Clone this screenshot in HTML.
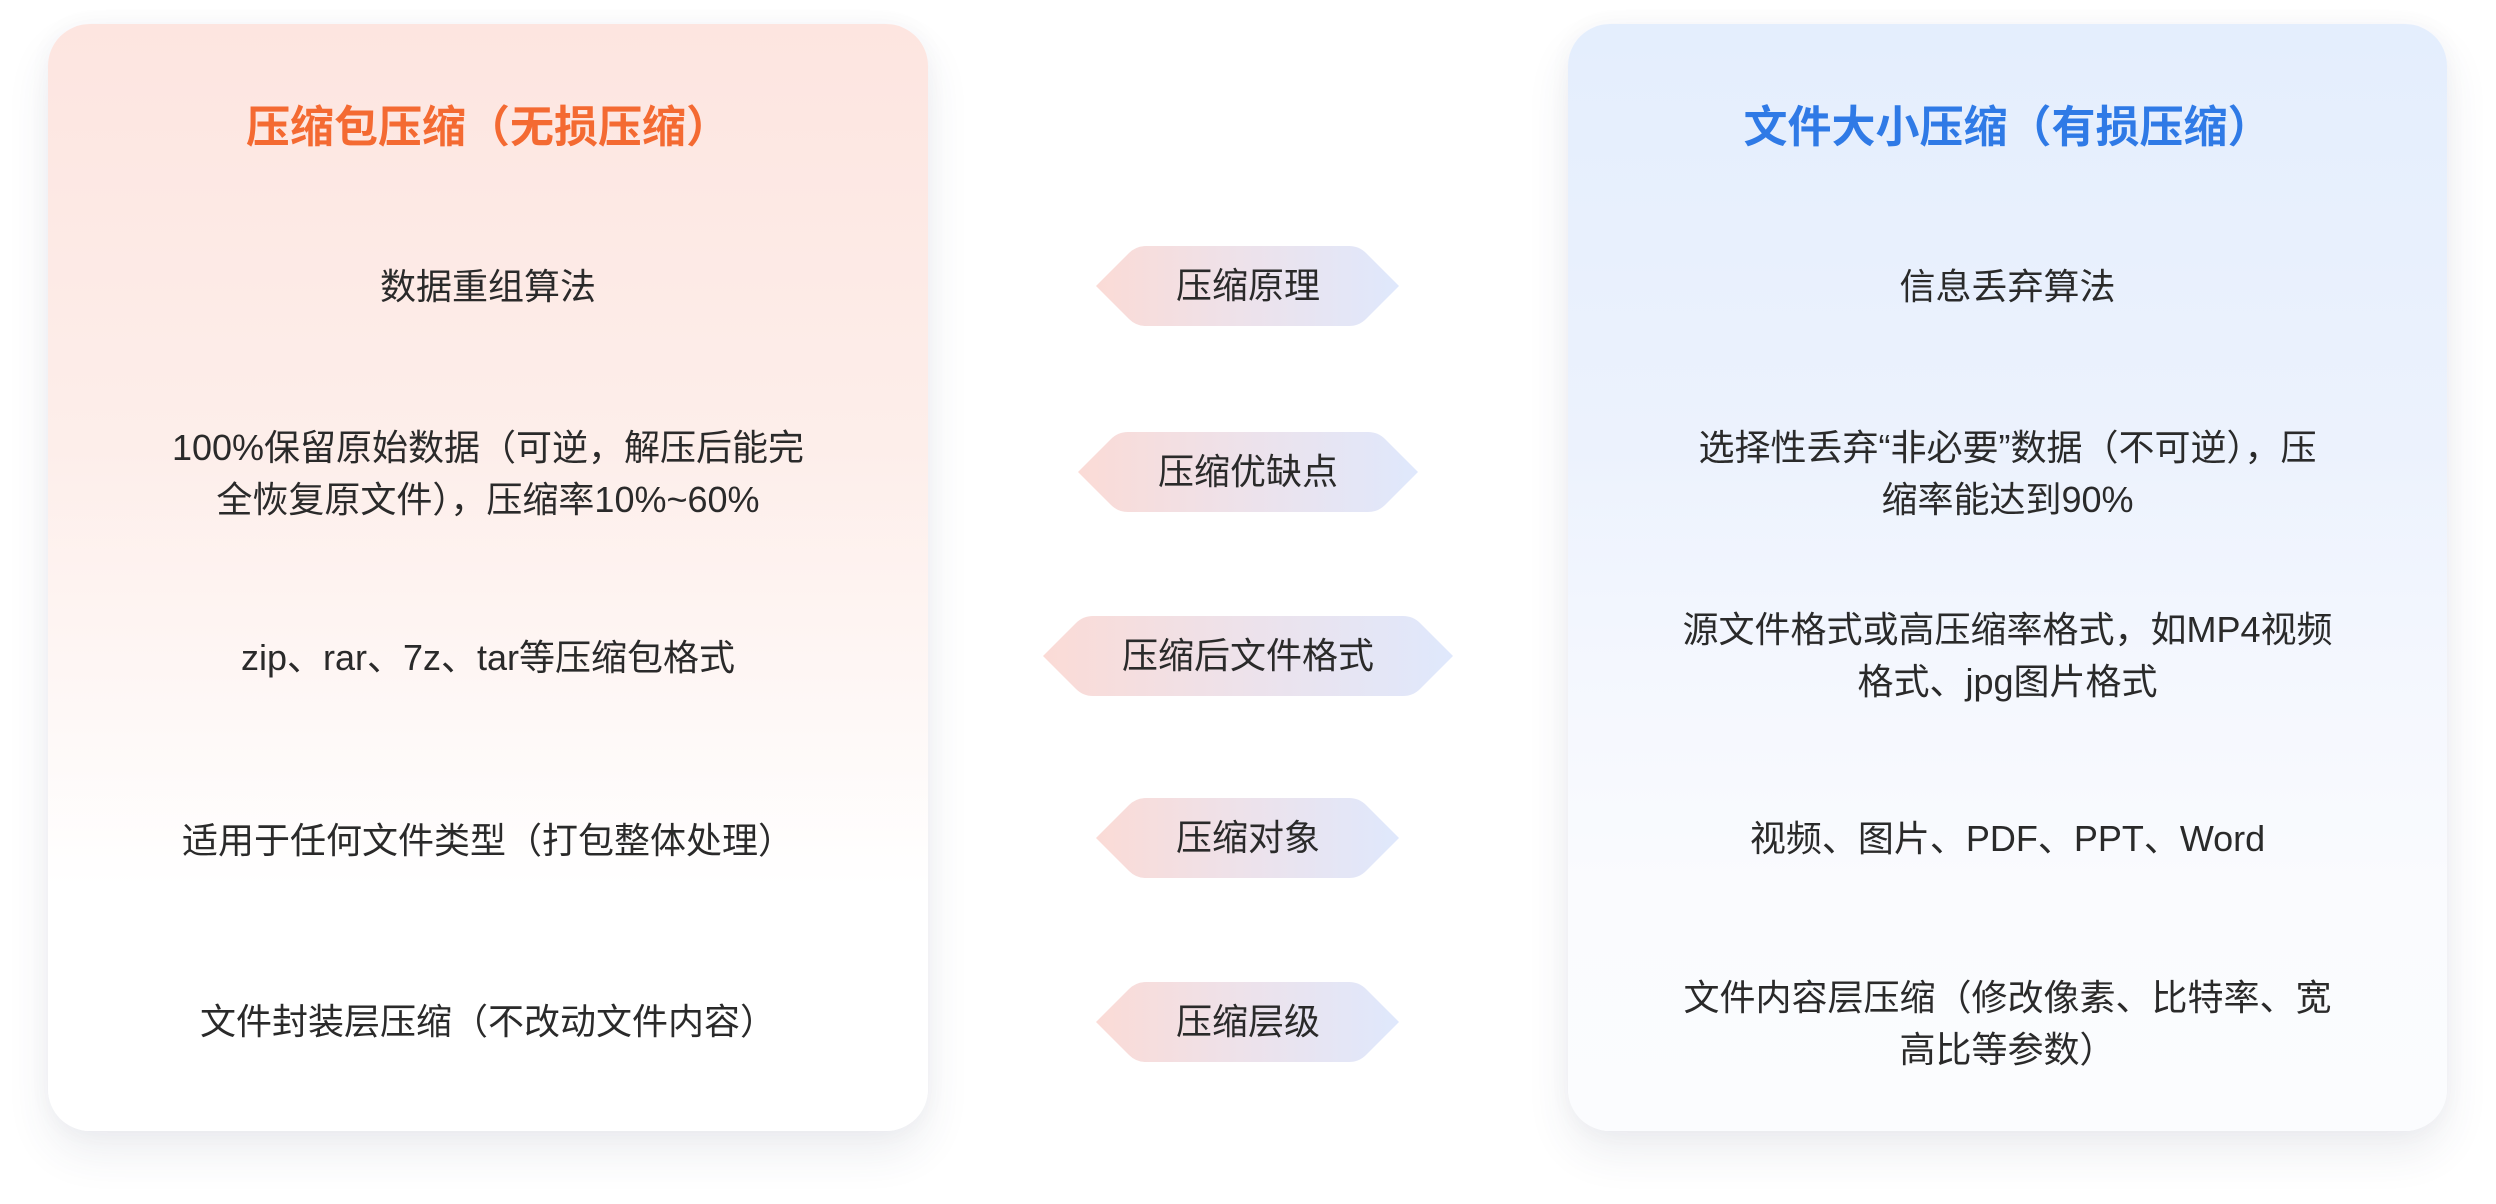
<!DOCTYPE html>
<html>
<head>
<meta charset="utf-8">
<style>
  html, body { margin:0; padding:0; }
  body {
    width:2496px; height:1204px; position:relative; overflow:hidden;
    background:#ffffff;
    font-family:"Liberation Sans","Noto Sans CJK SC",sans-serif;
    color:#2a2a2a;
  }
  .card {
    position:absolute; top:24px; height:1107px; border-radius:42px;
    box-shadow:0 22px 44px rgba(60,70,95,0.09), 0 0 24px rgba(60,70,95,0.035);
  }
  .left { left:48px; width:880px;
    background:linear-gradient(to bottom,#fde5e0 0%,#fdeeea 38%,#fef6f4 58%,#ffffff 78%,#ffffff 100%); }
  .right { left:1568px; width:879px;
    background:linear-gradient(to bottom,#e4eefd 0%,#ecf2fd 38%,#f4f7fe 58%,#fafbfe 78%,#fbfcfe 100%); }
  .t {
    position:absolute; text-align:center; white-space:nowrap;
    font-size:36px; line-height:52px;
  }
  .L { left:48px; width:880px; }
  .R { left:1568px; width:879px; }
  .title { font-size:44px; line-height:60px; font-weight:bold; top:98px; }
  .orange { color:#f46a32; }
  .blue { color:#2f7ae6; }
  .p { left:1048px; width:400px; }
  svg { position:absolute; left:0; top:0; }
</style>
</head>
<body>
  <div class="card left"></div>
  <div class="card right"></div>

  <svg width="2496" height="1204" viewBox="0 0 2496 1204">
    <defs>
      <linearGradient id="pg" x1="0" y1="0" x2="1" y2="0">
        <stop offset="0" stop-color="#fbdbd6"/>
        <stop offset="0.5" stop-color="#ede2eb"/>
        <stop offset="1" stop-color="#dfe8fc"/>
      </linearGradient>
    </defs>
    <path fill="url(#pg)" d="M1096,286 L1129,253 Q1136,246 1146,246 L1349,246 Q1359,246 1366,253 L1399,286 L1366,319 Q1359,326 1349,326 L1146,326 Q1136,326 1129,319 Z"/>
    <path fill="url(#pg)" d="M1078,472 L1111,439 Q1118,432 1128,432 L1368,432 Q1378,432 1385,439 L1418,472 L1385,505 Q1378,512 1368,512 L1128,512 Q1118,512 1111,505 Z"/>
    <path fill="url(#pg)" d="M1043,656 L1076,623 Q1083,616 1093,616 L1403,616 Q1413,616 1420,623 L1453,656 L1420,689 Q1413,696 1403,696 L1093,696 Q1083,696 1076,689 Z"/>
    <path fill="url(#pg)" d="M1096,838 L1129,805 Q1136,798 1146,798 L1349,798 Q1359,798 1366,805 L1399,838 L1366,871 Q1359,878 1349,878 L1146,878 Q1136,878 1129,871 Z"/>
    <path fill="url(#pg)" d="M1096,1022 L1129,989 Q1136,982 1146,982 L1349,982 Q1359,982 1366,989 L1399,1022 L1366,1055 Q1359,1062 1349,1062 L1146,1062 Q1136,1062 1129,1055 Z"/>
  </svg>

  <!-- Titles -->
  <div class="t L title orange">压缩包压缩（无损压缩）</div>
  <div class="t R title blue">文件大小压缩（有损压缩）</div>

  <!-- Left column -->
  <div class="t L" style="top:261px;">数据重组算法</div>
  <div class="t L" style="top:422px;">100%保留原始数据（可逆，解压后能完<br>全恢复原文件），压缩率10%~60%</div>
  <div class="t L" style="top:632px;">zip、rar、7z、tar等压缩包格式</div>
  <div class="t L" style="top:815px;">适用于任何文件类型（打包整体处理）</div>
  <div class="t L" style="top:996px;">文件封装层压缩（不改动文件内容）</div>

  <!-- Middle pills text -->
  <div class="t p" style="top:260px;">压缩原理</div>
  <div class="t p" style="top:446px;">压缩优缺点</div>
  <div class="t p" style="top:630px;">压缩后文件格式</div>
  <div class="t p" style="top:812px;">压缩对象</div>
  <div class="t p" style="top:996px;">压缩层级</div>

  <!-- Right column -->
  <div class="t R" style="top:261px;">信息丢弃算法</div>
  <div class="t R" style="top:422px;">选择性丢弃“非必要”数据（不可逆），压<br>缩率能达到90%</div>
  <div class="t R" style="top:604px;">源文件格式或高压缩率格式，如MP4视频<br>格式、jpg图片格式</div>
  <div class="t R" style="top:813px;">视频、图片、PDF、PPT、Word</div>
  <div class="t R" style="top:972px;">文件内容层压缩（修改像素、比特率、宽<br>高比等参数）</div>
</body>
</html>
